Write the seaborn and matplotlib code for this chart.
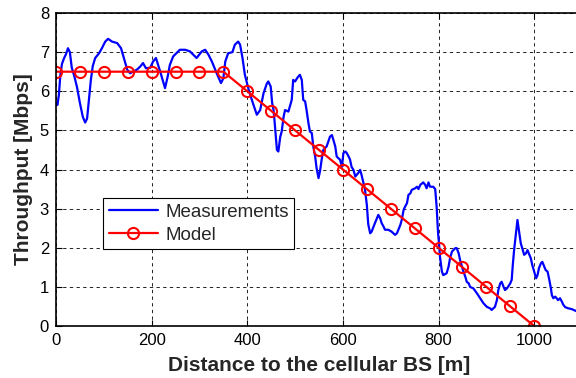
import matplotlib
matplotlib.use("Agg")
import matplotlib.pyplot as plt
import seaborn as sns
import pandas as pd

# Measurement trace (distance in m, throughput in Mbps)
meas_x = [1, 3, 6, 9, 12.5, 17, 21, 25, 29, 33, 38, 44, 50, 56, 61, 65, 69, 73, 77, 82,
          90, 96, 103, 109, 117, 128, 136, 142, 149, 155, 161, 169, 176, 182, 188, 197, 203, 209, 218, 228,
          234, 238, 245, 259, 270, 280, 294, 305, 312, 319, 326, 336, 345, 350, 354, 360, 369, 374, 381, 385,
          390, 395, 404, 413, 420, 427, 434, 441, 444, 449, 452, 455, 458, 462, 465, 469, 472, 476, 479, 486,
          493, 496, 500, 504, 507, 510, 514, 517, 521, 524, 528, 531, 535, 538, 542, 545, 549, 552, 556, 559,
          566, 573, 577, 580, 584, 587, 594, 598, 601, 605, 608, 612, 615, 618, 622, 626, 632, 636, 639, 643,
          646, 650, 653, 657, 660, 664, 667, 671, 674, 678, 681, 685, 688, 695, 702, 709, 713, 716, 720, 723,
          727, 730, 734, 737, 741, 744, 751, 755, 758, 762, 768, 772, 775, 779, 782, 789, 793, 796, 799, 801,
          803, 807, 810, 817, 821, 824, 828, 835, 838, 842, 845, 849, 852, 856, 859, 863, 866, 873, 880, 887,
          894, 901, 908, 911, 918, 922, 925, 929, 932, 936, 939, 943, 950, 953, 955, 958, 962, 965, 969, 972,
          975, 979, 983, 986, 990, 993, 996, 1000, 1004, 1007, 1010, 1014, 1017, 1021, 1024, 1028, 1031, 1035, 1037, 1040,
          1044, 1047, 1050, 1054, 1058, 1061, 1065, 1072, 1079, 1088, 1095]
meas_y = [5.7, 5.65, 5.9, 6.4, 6.7, 6.85, 6.95, 7.1, 7.0, 6.6, 6.4, 6.1, 5.7, 5.35, 5.2, 5.3, 5.8, 6.3, 6.65, 6.85,
          6.97, 7.1, 7.27, 7.34, 7.27, 7.23, 7.1, 6.85, 6.55, 6.46, 6.5, 6.55, 6.63, 6.72, 6.59, 6.6, 6.76, 6.85, 6.5, 6.08,
          6.4, 6.67, 6.89, 7.06, 7.06, 7.02, 6.85, 7.02, 7.06, 6.93, 6.76, 6.46, 6.21, 6.33, 6.76, 6.97, 7.0, 7.19, 7.27, 7.19,
          6.85, 6.42, 5.99, 5.65, 5.4, 5.52, 5.95, 6.2, 6.25, 6.12, 5.7, 5.52, 5.1, 4.5, 4.46, 4.84, 4.97, 5.35, 5.52, 5.48,
          5.78, 6.29, 6.25, 6.33, 6.38, 6.42, 6.29, 5.78, 5.74, 5.52, 5.18, 4.97, 4.93, 4.59, 4.33, 4.03, 3.78, 3.95, 4.29, 4.5,
          4.59, 4.84, 4.88, 4.76, 4.59, 4.33, 4.25, 4.07, 4.42, 4.46, 4.42, 4.33, 4.25, 4.07, 3.99, 3.82, 3.91, 3.99, 3.86, 3.65,
          3.5, 3.1, 2.6, 2.37, 2.41, 2.54, 2.63, 2.75, 2.84, 2.75, 2.63, 2.54, 2.46, 2.46, 2.41, 2.33, 2.37, 2.46, 2.58, 2.71,
          2.97, 3.05, 3.14, 3.35, 3.39, 3.48, 3.52, 3.56, 3.5, 3.61, 3.67, 3.61, 3.52, 3.67, 3.56, 3.56, 3.5, 3.05, 2.37, 2.11,
          1.77, 1.39, 1.3, 1.35, 1.52, 1.73, 1.9, 1.99, 1.99, 1.86, 1.69, 1.52, 1.39, 1.26, 1.13, 1.09, 1.0, 0.96, 0.84, 0.71,
          0.58, 0.49, 0.45, 0.41, 0.49, 0.66, 0.92, 1.09, 1.13, 1.0, 0.92, 0.96, 1.09, 1.18, 1.52, 1.94, 2.37, 2.71, 2.37, 2.11,
          1.99, 1.82, 1.86, 1.94, 1.82, 1.73, 1.56, 1.39, 1.22, 1.3, 1.48, 1.6, 1.64, 1.52, 1.43, 1.39, 1.22, 0.96, 0.79, 0.71,
          0.75, 0.71, 0.66, 0.71, 0.62, 0.54, 0.48, 0.45, 0.43, 0.38, 0.36]

# Model
model_x = [0, 50, 100, 150, 200, 250, 300, 350, 400, 450, 500, 550, 600, 650, 700, 750, 800, 850, 900, 950, 1000]
model_y = [6.5, 6.5, 6.5, 6.5, 6.5, 6.5, 6.5, 6.5, 6.0, 5.5, 5.0, 4.5, 4.0, 3.5, 3.0, 2.5, 2.0, 1.5, 1.0, 0.5, 0.0]

x_ticks = [0, 200, 400, 600, 800, 1000]
y_ticks = [0, 1, 2, 3, 4, 5, 6, 7, 8]

sns.set_style("white")
plt.rcParams['font.family'] = ['Liberation Sans', 'DejaVu Sans']

fig = plt.figure(figsize=(5.76, 3.78), dpi=100)
ax = fig.add_axes([56 / 576, 52 / 378, 526 / 576, 313 / 378])

meas = pd.DataFrame({"x": meas_x, "y": meas_y})
model = pd.DataFrame({"x": model_x, "y": model_y})

sns.lineplot(data=meas, x="x", y="y", ax=ax, color=(0, 0, 1), linewidth=1.6,
             label="Measurements", estimator=None, sort=False)
sns.lineplot(data=model, x="x", y="y", ax=ax, color=(1, 0, 0), linewidth=1.6,
             marker="o", markersize=8, markerfacecolor="none", markeredgecolor=(1, 0, 0),
             markeredgewidth=1.5, label="Model", estimator=None, sort=False)

ax.set_xlim(0, 1100)
ax.set_ylim(0, 8)
ax.set_xticks(x_ticks)
ax.set_yticks(y_ticks)
ax.grid(True, color="black", linestyle=(0, (4, 4)), linewidth=0.6)
ax.tick_params(direction="in", length=4, labelsize=12, colors="black", width=0.8,
               top=True, right=True, bottom=True, left=True, pad=5)
for s in ax.spines.values():
    s.set_color("black")
    s.set_linewidth(1.2)

ax.set_xlabel("Distance to the cellular BS [m]", fontsize=15, fontweight="bold", labelpad=6)
ax.set_ylabel("Throughput [Mbps]", fontsize=15, fontweight="bold", labelpad=5)

leg = ax.legend(loc="upper left", bbox_to_anchor=(0.09, 0.408), borderaxespad=0,
                fontsize=13.5, fancybox=False, framealpha=1, edgecolor="black",
                handlelength=2.6, labelspacing=0.3, borderpad=0.3, handletextpad=0.4)
leg.get_frame().set_linewidth(0.8)

fig.savefig("out.png", dpi=100)
